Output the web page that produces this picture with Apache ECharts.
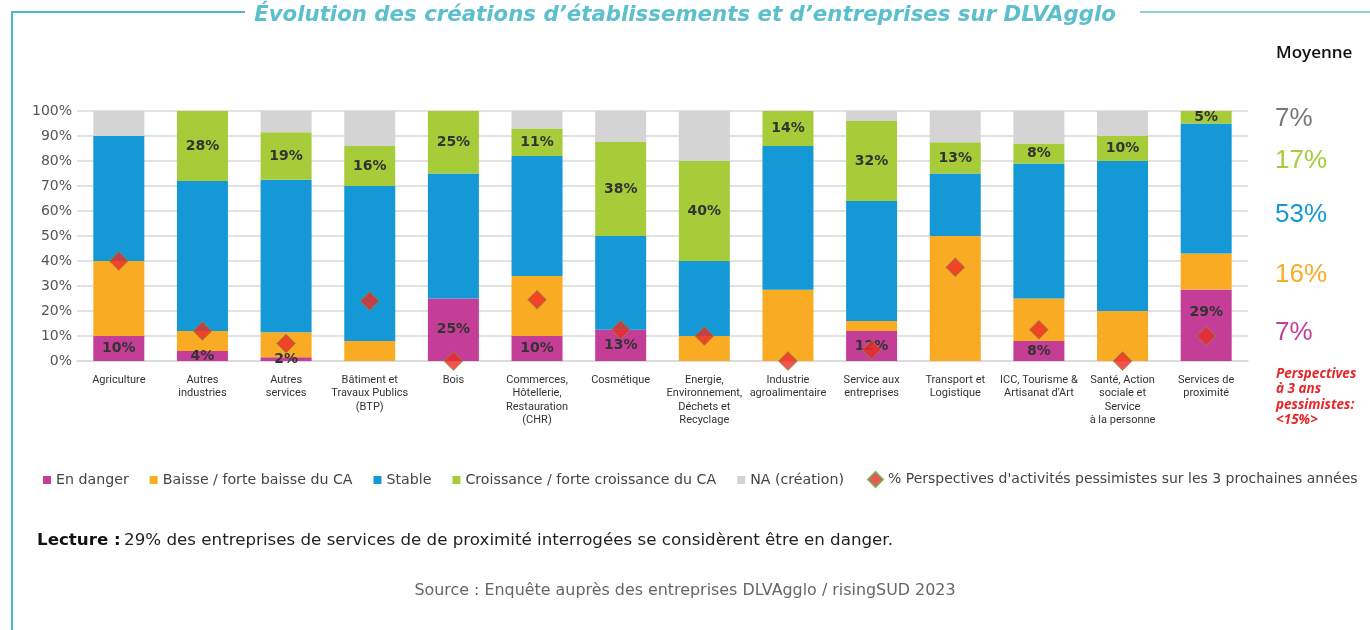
<!DOCTYPE html>
<html>
<head>
<meta charset="utf-8">
<script src="https://cdn.jsdelivr.net/npm/echarts@6/dist/echarts.min.js"></script>
<style>
  html, body { margin: 0; padding: 0; background: #fff; }
  #chart { width: 1370px; height: 630px; }
</style>
</head>
<body>
<div id="chart"></div>
<script>
// categories (line breaks as in the source)
var categories = [
  'Agriculture',
  'Autres\nindustries',
  'Autres\nservices',
  'Bâtiment et\nTravaux Publics\n(BTP)',
  'Bois',
  'Commerces,\nHôtellerie,\nRestauration\n(CHR)',
  'Cosmétique',
  'Energie,\nEnvironnement,\nDéchets et\nRecyclage',
  'Industrie\nagroalimentaire',
  'Service aux\nentreprises',
  'Transport et\nLogistique',
  'ICC, Tourisme &\nArtisanat d\'Art',
  'Santé, Action\nsociale et\nService\nà la personne',
  'Services de\nproximité'
];

var enDanger    = [10, 4, 1.5, 0, 25, 10, 12.5, 0, 0, 12, 0, 8, 0, 28.6];
var baisse      = [30, 8, 10, 8, 0, 24, 0, 10, 28.5, 4, 50, 17, 20, 14.4];
var stable      = [50, 60, 61, 62, 50, 48, 37.5, 30, 57.5, 48, 25, 54, 60, 52];
var croissance  = [0, 28, 19, 16, 25, 11, 37.6, 40, 14, 32, 12.5, 8, 10, 5];
var na          = [10, 0, 8.5, 14, 0, 7, 12.4, 20, 0, 4, 12.5, 13, 10, 0];
var perspectives = [40, 12, 7, 24, 0, 24.5, 12.5, 10, 0, 4.5, 37.5, 12.5, 0, 10];

// moyennes (colonne de droite), de haut en bas
var moyennes = ['7%', '17%', '53%', '16%', '7%'];

var yTicks = [0, 10, 20, 30, 40, 50, 60, 70, 80, 90, 100];

var names = [
  'En danger',
  'Baisse / forte baisse du CA',
  'Stable',
  'Croissance / forte croissance du CA',
  'NA (création)'
];
var perspName = '% Perspectives d\'activités pessimistes sur les 3 prochaines années';
var colors = ['#c43d96', '#f9ab24', '#1499d6', '#a6cc3a', '#d3d4d3'];

var myChart = echarts.init(document.getElementById('chart'));

var pctLabel = function (p) {
  return p.value > 0 ? Math.round(p.value) + '%' : '';
};

var labelStyle = {
  show: true,
  position: 'inside',
  formatter: pctLabel,
  color: '#333',
  fontFamily: 'DejaVu Sans',
  fontWeight: 'bold',
  fontSize: 14
};

// le dernier "29%" est remonté pour laisser la place au losange
var dangerData = enDanger.map(function (v, i) {
  if (i === enDanger.length - 1) {
    return { value: v, label: { offset: [0, -13] } };
  }
  return v;
});

var stacks = [dangerData, baisse, stable, croissance, na];
var series = stacks.map(function (d, i) {
  return {
    name: names[i],
    type: 'bar',
    stack: 'total',
    barWidth: 51,
    data: d,
    itemStyle: { color: colors[i] },
    label: (i === 0 || i === 3) ? labelStyle : { show: false }
  };
});

series.push({
  name: perspName,
  type: 'scatter',
  data: perspectives,
  symbol: 'diamond',
  symbolSize: 19,
  clip: false,
  z: 3,
  itemStyle: { color: '#ec2a26', borderColor: '#6aaa4a', borderWidth: 0.8 }
});

var avgColors = ['#777777', '#a6cc3a', '#1499d6', '#f9ab24', '#c43d96'];
var avgY = [121, 163, 217, 277, 335];
var graphics = [
  { type: 'line', shape: { x1: 12, y1: 12, x2: 245, y2: 12 }, style: { stroke: '#4db8c8', lineWidth: 2 } },
  { type: 'line', shape: { x1: 1140, y1: 12, x2: 1370, y2: 12 }, style: { stroke: '#8fd0da', lineWidth: 2 } },
  { type: 'line', shape: { x1: 12, y1: 11, x2: 12, y2: 630 }, style: { stroke: '#4db8c8', lineWidth: 2 } },
  {
    type: 'text', left: 'center', top: 5,
    style: {
      text: 'Évolution des créations d\u2019établissements et d\u2019entreprises sur DLVAgglo',
      fill: '#5bbfcd', font: 'italic bold 21.3px "DejaVu Sans"'
    }
  },
  {
    type: 'text', left: 1276, top: 45,
    style: { text: 'Moyenne', fill: '#111', font: '600 17px "Open Sans"' }
  },
  {
    type: 'text', left: 1276, top: 366,
    style: {
      text: 'Perspectives\nà 3 ans\npessimistes:\n<15%>',
      fill: '#e8262a', font: 'italic bold 13.5px "Open Sans"', lineHeight: 15.5
    }
  },
  {
    type: 'text', left: 37, top: 532,
    style: {
      rich: {
        b: { fontFamily: 'DejaVu Sans', fontWeight: 'bold', fontSize: 16.7, fill: '#111' },
        n: { fontFamily: 'DejaVu Sans', fontSize: 16.7, fill: '#222' }
      },
      text: '{b|Lecture :} {n|29% des entreprises de services de de proximité interrogées se considèrent être en danger.}'
    }
  },
  {
    type: 'text', left: 'center', top: 583,
    style: {
      text: 'Source : Enquête auprès des entreprises DLVAgglo / risingSUD 2023',
      fill: '#666', font: '15.9px "DejaVu Sans"'
    }
  }
];
moyennes.forEach(function (t, i) {
  graphics.push({
    type: 'text', left: 1275, top: avgY[i] - 15,
    style: { text: t, fill: avgColors[i], font: '26px "Liberation Sans"' }
  });
});

var option = {
  animation: false,
  grid: { left: 77, right: 122, top: 111, bottom: 269 },
  legend: [
    {
      data: names,
      left: 38,
      top: 468,
      itemWidth: 8,
      itemHeight: 8,
      itemGap: 21,
      icon: 'rect',
      textStyle: { fontFamily: 'DejaVu Sans', fontSize: 14.2, color: '#444' }
    },
    {
      data: [perspName],
      left: 862,
      top: 466,
      itemWidth: 15,
      itemHeight: 15,
      itemGap: 10,
      textStyle: { fontFamily: 'DejaVu Sans', fontSize: 14, color: '#444' }
    }
  ],
  xAxis: {
    type: 'category',
    data: categories,
    axisTick: { show: false },
    axisLine: { lineStyle: { color: '#d9d9d9', width: 1.5 } },
    axisLabel: {
      interval: 0,
      margin: 12,
      fontFamily: 'Roboto',
      fontSize: 11,
      lineHeight: 13.5,
      color: '#333',
      verticalAlign: 'top'
    }
  },
  yAxis: {
    type: 'value',
    min: yTicks[0],
    max: yTicks[yTicks.length - 1],
    interval: 10,
    axisLine: { show: false },
    axisTick: { show: false },
    splitLine: { lineStyle: { color: '#d9d9d9', width: 1.5 } },
    axisLabel: {
      formatter: '{value}%',
      margin: 5,
      fontFamily: 'DejaVu Sans',
      fontSize: 14,
      color: '#555'
    }
  },
  graphic: graphics,
  series: series
};

myChart.setOption(option);
</script>
</body>
</html>
